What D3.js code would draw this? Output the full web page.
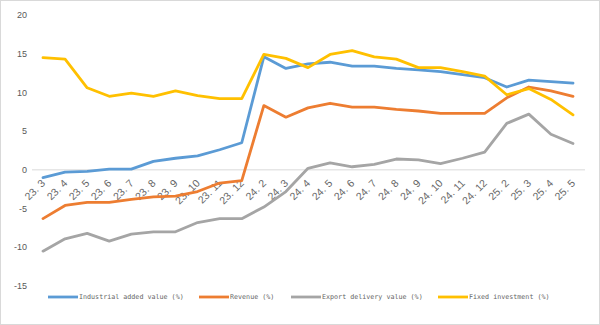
<!DOCTYPE html>
<html><head><meta charset="utf-8">
<script src="https://cdn.jsdelivr.net/npm/d3@7"></script>
<style>body{margin:0;background:#fff}svg{display:block}</style>
</head><body>
<script>
const categories = ["23.3","23.4","23.5","23.6","23.7","23.8","23.9","23.10","23.11","23.12",
  "24.2","24.3","24.4","24.5","24.6","24.7","24.8","24.9","24.10","24.11","24.12",
  "25.2","25.3","25.4","25.5"];
const industrial = [-1.0,-0.3,-0.2,0.1,0.1,1.1,1.5,1.8,2.6,3.5,
  14.6,13.1,13.7,13.9,13.4,13.4,13.1,12.9,12.7,12.3,11.9,
  10.7,11.6,11.4,11.2];
const revenue = [-6.3,-4.6,-4.2,-4.2,-3.8,-3.5,-3.4,-2.8,-1.7,-1.4,
  8.3,6.8,8.0,8.6,8.1,8.1,7.8,7.6,7.3,7.3,7.3,
  9.3,10.7,10.2,9.5];
const exportValue = [-10.5,-8.9,-8.2,-9.2,-8.3,-8.0,-8.0,-6.8,-6.3,-6.3,
  -4.8,-2.8,0.2,0.9,0.4,0.7,1.4,1.3,0.8,1.5,2.3,
  6.0,7.2,4.6,3.4];
const fixedInvestment = [14.5,14.3,10.6,9.5,9.9,9.5,10.2,9.6,9.2,9.2,
  14.9,14.4,13.2,14.9,15.4,14.6,14.3,13.2,13.2,12.7,12.1,
  9.7,10.5,9.1,7.1];
const seriesNames = ["Industrial added value (%)","Revenue (%)","Export delivery value (%)","Fixed investment (%)"];
const yTicks = [-15,-10,-5,0,5,10,15,20];

const colors = ["#5b9bd5","#ed7d31","#a5a5a5","#ffc000"];
const seriesData = [industrial, revenue, exportValue, fixedInvestment];

const W = 600, H = 325;
const svg = d3.select("body").append("svg").attr("width", W).attr("height", H);
svg.append("rect").attr("x",0.5).attr("y",0.5).attr("width",W-1).attr("height",H-1)
  .attr("fill","#fff").attr("stroke","#d9d9d9");

const x = d3.scalePoint().domain(categories).range([43, 573]);
const y = d3.scaleLinear().domain([-15, 20]).range([286, 15]);

// y labels
const yAxis = svg.append("g");
yAxis.selectAll("text").data(yTicks).enter().append("text")
  .attr("x", 27).attr("y", d => y(d)).attr("dy","0.35em")
  .attr("text-anchor","end").attr("fill","#595959")
  .style("font-family","'Liberation Sans', Arial, sans-serif").style("font-size","9px")
  .text(d => d < 0 ? "-" + Math.abs(d) : d);

// zero line
svg.append("line").attr("x1", 32).attr("x2", 585).attr("y1", y(0)).attr("y2", y(0))
  .attr("stroke","#d9d9d9").attr("stroke-width",1);

// x labels
const xl = svg.append("g");
xl.selectAll("text").data(categories).enter().append("text")
  .attr("transform", d => `translate(${x(d)+3},${y(0)+14}) rotate(-45)`)
  .attr("text-anchor","end").attr("fill","#666666")
  .style("font-family","'Liberation Sans', Arial, sans-serif").style("font-size","10.5px")
  .each(function(d){
    const parts = d.split(".");
    const t = d3.select(this);
    t.append("tspan").text(parts[0] + ".");
    t.append("tspan").attr("dx", 3.5).text(parts[1]);
  });

// lines
const line = d3.line().x((d,i) => x(categories[i])).y(d => y(d));
seriesData.forEach((s, k) => {
  svg.append("path").datum(s).attr("d", line).attr("fill","none")
    .attr("stroke", colors[k]).attr("stroke-width", 2.8)
    .attr("stroke-linejoin","round").attr("stroke-linecap","round");
});

// legend
const legendX = [48, 199, 291, 438];
const lg = svg.append("g");
seriesNames.forEach((n, k) => {
  lg.append("line").attr("x1", legendX[k]).attr("x2", legendX[k]+30)
    .attr("y1", 297).attr("y2", 297).attr("stroke", colors[k]).attr("stroke-width", 2.8);
  lg.append("text").attr("x", legendX[k]+31).attr("y", 297).attr("dy","0.35em")
    .attr("fill","#666666")
    .style("font-family","'DejaVu Sans Mono', monospace").style("font-size","6.7px")
    .text(n);
});
</script>
</body></html>
